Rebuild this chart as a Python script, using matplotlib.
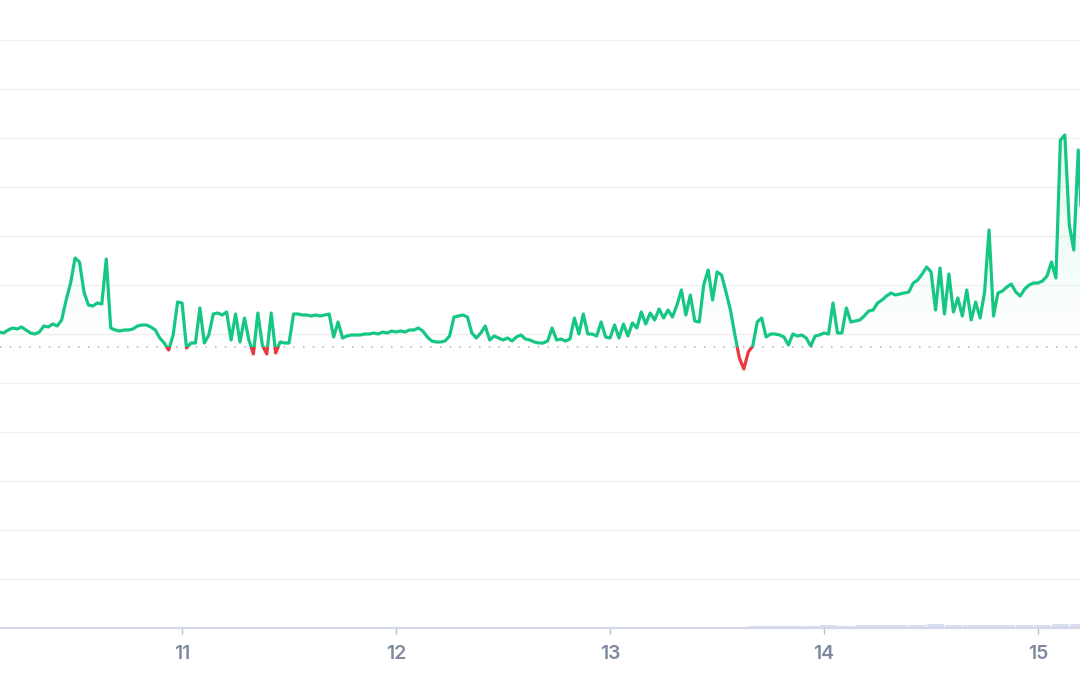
import numpy as np
import pandas as pd
import matplotlib
matplotlib.use('Agg')
import matplotlib.pyplot as plt
import matplotlib.dates as mdates
import matplotlib.transforms as mtransforms
from matplotlib.patches import Rectangle

# ── Data: price every 30 min, open price reference, volume per 2h
START = "2024-03-10 03:30"
open_price = 100.0

price = [
    101.5, 101.4, 101.7, 101.9, 101.8, 102.0, 101.7, 101.4, 101.3, 101.5,
    102.1, 102.0, 102.3, 102.1, 102.7, 104.7, 106.4, 108.9, 108.5, 105.5,
    104.2, 104.1, 104.4, 104.3, 108.8, 101.9, 101.7, 101.6, 101.7, 101.7,
    101.8, 102.1, 102.2, 102.2, 102.0, 101.7, 100.9, 100.4, 99.7, 101.2,
    104.5, 104.4, 99.9, 100.4, 100.4, 103.9, 100.4, 101.2, 103.3, 103.4,
    103.2, 103.5, 100.7, 103.3, 100.5, 102.9, 100.7, 99.3, 103.4, 100.2,
    99.3, 103.4, 99.4, 100.5, 100.4, 100.4, 103.3, 103.3, 103.2, 103.2,
    103.1, 103.2, 103.1, 103.2, 103.3, 101.0, 102.5, 100.9, 101.1, 101.2,
    101.2, 101.2, 101.3, 101.3, 101.4, 101.3, 101.5, 101.4, 101.6, 101.5,
    101.6, 101.5, 101.7, 101.7, 101.9, 101.6, 101.0, 100.6, 100.5, 100.5,
    100.6, 101.1, 103.0, 103.1, 103.2, 103.0, 101.4, 100.9, 101.4, 102.1,
    100.7, 101.1, 100.9, 100.7, 100.9, 100.6, 101.0, 101.2, 100.8, 100.7,
    100.5, 100.4, 100.4, 100.6, 101.9, 100.7, 100.8, 100.6, 100.8, 102.9,
    101.3, 103.3, 101.3, 101.3, 101.1, 102.5, 101.0, 100.9, 102.2, 100.9,
    102.3, 101.1, 102.4, 101.9, 103.5, 102.3, 103.4, 102.7, 103.8, 102.9,
    103.7, 103.0, 104.2, 105.7, 103.2, 105.2, 102.6, 102.5, 106.2, 107.7,
    104.7, 107.5, 107.2, 105.5, 103.7, 101.2, 98.9, 97.8, 99.5, 100.1,
    102.5, 102.9, 101.0, 101.3, 101.3, 101.2, 101.0, 100.2, 101.3, 101.1,
    101.2, 100.9, 100.1, 101.1, 101.2, 101.4, 101.3, 104.4, 101.4, 101.4,
    103.9, 102.5, 102.6, 102.7, 103.1, 103.6, 103.7, 104.4, 104.7, 105.1,
    105.4, 105.2, 105.3, 105.4, 105.5, 106.4, 106.7, 107.3, 108.0, 107.5,
    103.7, 107.9, 103.3, 107.3, 103.5, 104.9, 103.1, 105.7, 102.7, 104.5,
    102.9, 105.5, 111.7, 103.1, 105.4, 105.6, 106.0, 106.3, 105.5, 105.1,
    105.8, 106.2, 106.4, 106.4, 106.6, 107.1, 108.5, 106.9, 120.7, 121.2,
    112.2, 109.7, 119.7, 110.7,
]

volume = [
    0.2, 0.2, 0.2, 0.2, 0.2, 0.2, 0.2, 0.2, 0.2, 0.2,
    0.2, 0.2, 0.2, 0.2, 0.2, 0.2, 0.2, 0.2, 0.2, 0.2,
    0.2, 0.2, 0.2, 0.2, 0.2, 0.2, 0.2, 0.2, 0.2, 0.2,
    0.2, 0.2, 0.2, 0.2, 0.2, 0.2, 0.2, 0.2, 0.2, 0.2,
    0.2, 0.2, 2.4, 2.5, 2.5, 2.4, 2.6, 2.5, 2.6, 2.7,
    2.8, 3.4, 3.6, 3.0, 3.3, 2.9, 3.2, 3.0, 3.5, 3.8,
    4.2,
]

GREEN = "#16c784"
RED = "#ea3943"

times = pd.date_range(START, periods=len(price), freq="30min")
vol_times = pd.date_range(pd.Timestamp(START) + pd.Timedelta("1h"),
                          periods=len(volume), freq="2h")
price = np.array(price)

plt.rcParams["font.family"] = ["Inter", "DejaVu Sans"]

fig = plt.figure(figsize=(10.8, 6.75), dpi=100)
ax = fig.add_axes([0, 47 / 675, 1, 628 / 675])
axv = ax.twinx()
ax.set_zorder(2)
ax.patch.set_visible(False)

# ── volume bars (faint, bottom)
axv.bar(vol_times, volume, width=2 / 24 * 0.96, color="#dadeef", lw=0)
axv.set_ylim(0, 628)
axv.axis("off")

# ── gradient fill between price and open
xnum = mdates.date2num(times)
poly = ax.fill_between(times, open_price, np.maximum(price, open_price),
                       color="none", lw=0)
grad = np.zeros((256, 1, 4))
grad[:, :, :3] = matplotlib.colors.to_rgb(GREEN)
grad[:, 0, 3] = np.linspace(0.12, 0.0, 256)
im = ax.imshow(grad, aspect="auto", origin="upper", zorder=1,
               extent=[xnum[0], xnum[-1], open_price, price.max()])
im.set_clip_path(poly.get_paths()[0], transform=ax.transData)

# ── price line, green above open, red below
blend = mtransforms.blended_transform_factory(ax.transAxes, ax.transData)
up_clip = Rectangle((0, open_price), 1, 1000, transform=blend)
dn_clip = Rectangle((0, open_price - 1000), 1, 1000, transform=blend)

ln_up, = ax.plot(times, price, color=GREEN, lw=2.3, zorder=4,
                 solid_joinstyle="round", solid_capstyle="round")
ln_up.set_clip_path(up_clip)
ln_dn, = ax.plot(times, price, color=RED, lw=2.3, zorder=4,
                 solid_joinstyle="round", solid_capstyle="round")
ln_dn.set_clip_path(dn_clip)

# dotted open-price line
ax.axhline(open_price, color="#a8adb8", lw=1.1, dashes=(0.9, 5.5), zorder=3)

# ── axes styling
y_bottom, y_top = 71.9, 134.7
ax.set_ylim(y_bottom, y_top)
ax.set_xlim(pd.Timestamp("2024-03-10 03:35"), pd.Timestamp("2024-03-15 04:42"))

grid_levels = [y_bottom + 4.9 * k for k in range(1, 13)]
ax.set_yticks(grid_levels)
ax.tick_params(axis="y", length=0, labelleft=False)
ax.grid(axis="y", color="#f0f0f2", lw=1)
ax.set_axisbelow(True)

ax.xaxis.set_major_locator(mdates.DayLocator())
ax.xaxis.set_major_formatter(mdates.DateFormatter("%d"))
ax.tick_params(axis="x", length=4, width=1, color="#b8bfcf", pad=8,
               labelsize=14, labelcolor="#808a9d")
for lbl in ax.get_xticklabels():
    lbl.set_fontweight("semibold")

for s in ["top", "left", "right"]:
    ax.spines[s].set_visible(False)
ax.spines["bottom"].set_color("#d3d7eb")
ax.spines["bottom"].set_linewidth(1.6)

plt.savefig("out.png", dpi=100)
plt.close()
